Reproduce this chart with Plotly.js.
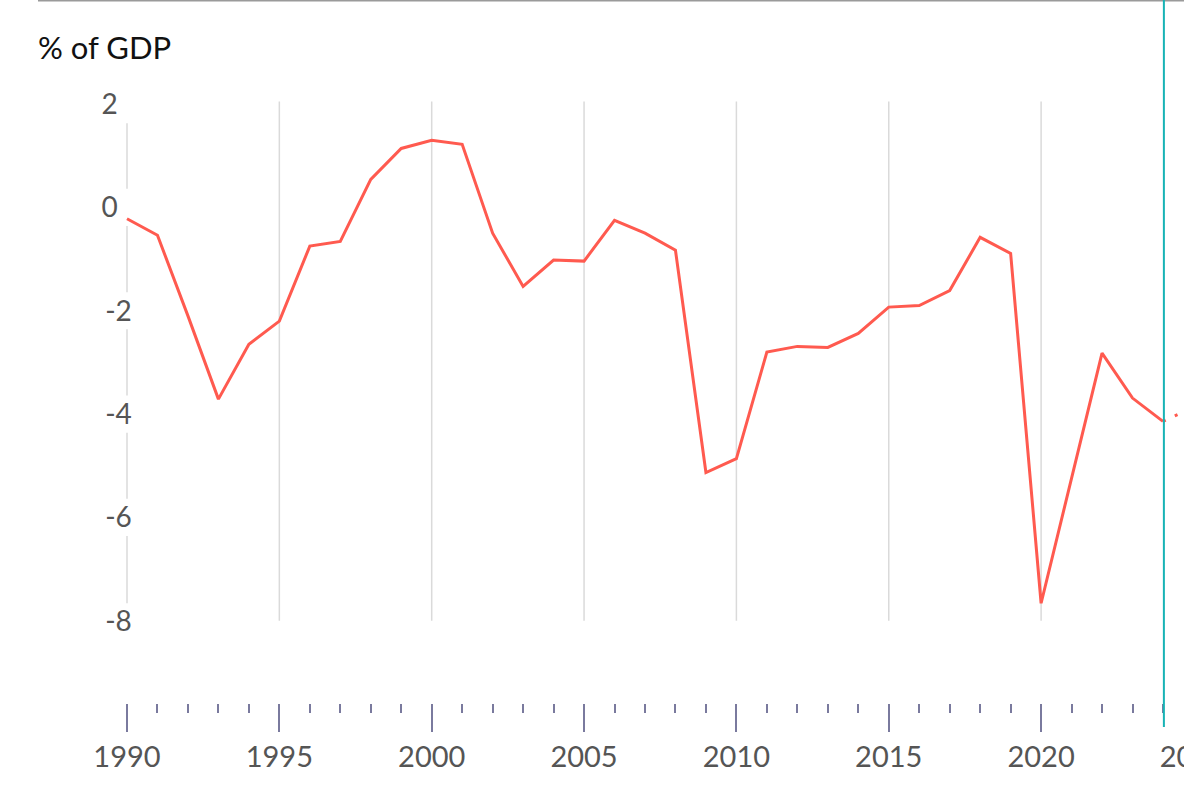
<!DOCTYPE html>
<html>
<head>
<meta charset="utf-8">
<script src="https://cdn.plot.ly/plotly-3.0.1.min.js"></script>
<style>
html, body { margin: 0; padding: 0; overflow: hidden; background: #fff; }
#chart { width: 1400px; height: 804px; }
</style>
</head>
<body>
<div id="chart"></div>
<script>
// Data
const years = [1990,1991,1992,1993,1994,1995,1996,1997,1998,1999,2000,2001,2002,2003,2004,2005,2006,2007,2008,2009,2010,2011,2012,2013,2014,2015,2016,2017,2018,2019,2020,2021,2022,2023,2024];
const balance = [-0.22,-0.54,-2.1,-3.71,-2.65,-2.2,-0.75,-0.66,0.54,1.14,1.30,1.22,-0.50,-1.53,-1.02,-1.04,-0.25,-0.50,-0.83,-5.13,-4.86,-2.80,-2.69,-2.71,-2.44,-1.93,-1.90,-1.61,-0.58,-0.89,-7.66,-5.24,-2.82,-3.69,-4.14];
const forecastYears = [2024, 2025];
const forecastValues = [-4.14, -3.87];
const yTickVals = [2, 0, -2, -4, -6, -8];
const yTickText = ['2\u2002', '0\u2002', '-2', '-4', '-6', '-8'];
const gridYears = [1995, 2000, 2005, 2010, 2015, 2020];
const yTitle = '% of GDP';
const currentYear = 2024.03;

const lineColor = '#ff5a4f';
const gridColor = '#dadada';

const shapes = [];
gridYears.forEach(function (yr) {
  shapes.push({type: 'line', xref: 'x', yref: 'y', x0: yr, x1: yr, y0: -8, y1: 2.05,
    line: {color: gridColor, width: 1.5}, layer: 'below'});
});
// 1990 gridline broken around the tick labels
[[1.63, 0.36], [-0.36, -1.64], [-2.36, -3.64], [-4.36, -5.64], [-6.36, -7.66]].forEach(function (seg) {
  shapes.push({type: 'line', xref: 'x', yref: 'y', x0: 1990, x1: 1990, y0: seg[0], y1: seg[1],
    line: {color: gridColor, width: 1.5}, layer: 'below'});
});
// top rule
shapes.push({type: 'line', xref: 'paper', yref: 'paper', x0: -0.0477, x1: 1, y0: 1.1151, y1: 1.1151,
  line: {color: '#9a9a9a', width: 2}});
// current-year marker
shapes.push({type: 'line', xref: 'x', yref: 'paper', x0: currentYear, x1: currentYear, y0: -0.038, y1: 1.13,
  line: {color: '#17b3b5', width: 2}});

const traces = [
  {x: years, y: balance, type: 'scatter', mode: 'lines',
   line: {color: lineColor, width: 3}, hoverinfo: 'x+y', showlegend: false},
  {x: forecastYears, y: forecastValues, type: 'scatter', mode: 'lines',
   line: {color: lineColor, width: 3, dash: '3px,10px'}, hoverinfo: 'x+y', showlegend: false}
];

const layout = {
  width: 1400, height: 804,
  margin: {l: 100, r: 0, t: 73, b: 101},
  paper_bgcolor: '#ffffff', plot_bgcolor: '#ffffff',
  font: {family: 'Lato, "Open Sans", sans-serif', color: '#555555', size: 29},
  showlegend: false,
  xaxis: {
    range: [1989.1139, 2031.779],
    tickmode: 'linear', tick0: 1990, dtick: 5,
    ticks: 'outside', ticklen: 28, tickwidth: 2, tickcolor: '#7a7a9e',
    showgrid: false, zeroline: false, showline: false,
    tickfont: {family: 'Lato, sans-serif', size: 29, color: '#555555'},
    ticklabelstandoff: 0,
    minor: {dtick: 1, tick0: 1990, ticks: 'outside', ticklen: 9, tickwidth: 2, tickcolor: '#7a7a9e', showgrid: false},
    fixedrange: true
  },
  yaxis: {
    range: [-9.59, 2.6], anchor: 'free', position: 0.026, side: 'left',
    tickmode: 'array', tickvals: yTickVals, ticktext: yTickText,
    ticks: '', ticklabelstandoff: 2,
    showgrid: false, zeroline: false, showline: false,
    tickfont: {family: 'Lato, sans-serif', size: 28, color: '#555555'},
    fixedrange: true
  },
  shapes: shapes,
  annotations: [{
    text: yTitle, xref: 'paper', yref: 'paper', x: -0.0492, y: 1.0413,
    xanchor: 'left', yanchor: 'middle', showarrow: false,
    font: {family: 'Lato, sans-serif', size: 31, color: '#111111'}
  }]
};

Plotly.newPlot('chart', traces, layout, {displayModeBar: false, staticPlot: true});
</script>
</body>
</html>
